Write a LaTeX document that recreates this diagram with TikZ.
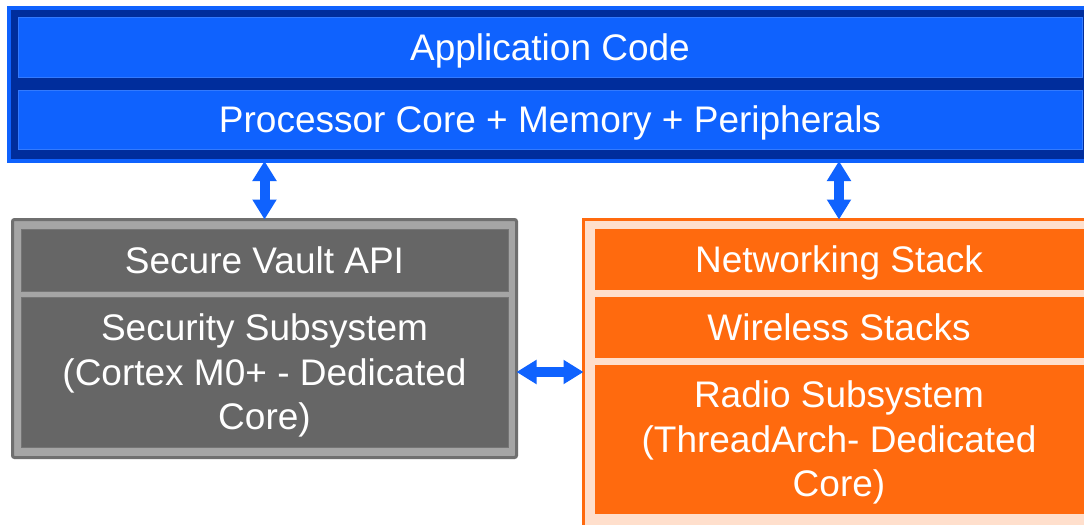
\documentclass[tikz,border=0pt]{standalone}
\usepackage{fontspec}
\setmainfont{Liberation Sans}
\usetikzlibrary{fit,arrows.meta}
\definecolor{ibmblue}{HTML}{0F62FE}
\definecolor{navy}{HTML}{002D9C}
\definecolor{gdark}{HTML}{666666}
\definecolor{glight}{HTML}{A5A5A5}
\definecolor{gedge}{HTML}{6F6F6F}
\definecolor{orng}{HTML}{FF6A0E}
\definecolor{peach}{HTML}{FFDFCC}
\begin{document}
\begin{tikzpicture}[x=0.5pt,y=-0.5pt,
  frame/.style={rectangle, inner sep=0pt, outer sep=0pt},
  bluebox/.style={frame, fill=ibmblue, draw=ibmblue!85!white, line width=0.4pt},
  graybox/.style={frame, fill=gdark, draw=gdark!90!white, line width=0.4pt},
  orangebox/.style={frame, fill=orng, draw=orng, line width=0.4pt},
  lbl/.style={text=white, align=center, inner sep=0pt, font=\fontsize{18.5pt}{22.3pt}\selectfont},
  oneline/.style={lbl, text height=13.3pt, text depth=0pt},
  threeline/.style={lbl, yshift=-1.9pt},
  dbl/.style={draw=ibmblue, line width=5pt, {Triangle[width=11.5pt,length=10pt]}-{Triangle[width=11.5pt,length=10pt]}}
]
\useasboundingbox (0,0) rectangle (1084,525);
\clip (0,0) rectangle (1084,525);
\fill[white] (0,0) rectangle (1084,525);

% top blue block
\node[frame, fill=navy, draw=ibmblue, line width=2pt, fit={(9,8) (1100,161)}] (top) {};
\node[bluebox, fit={(18,17) (1082,77)}] (app) {};
\node[bluebox, fit={(18,90) (1082,149)}] (proc) {};
\node[oneline] (appt) at (app.center) {Application Code};
\node[oneline] (proct) at (proc.center) {Processor Core + Memory + Peripherals};

% gray block
\node[frame, fill=glight, draw=gedge, line width=1.5pt, rounded corners=1pt, fit={(12.5,219.5) (516.5,457.5)}] (gray) {};
\node[graybox, fit={(21,229) (508,291)}] (vault) {};
\node[graybox, fit={(21,297) (508,447)}] (sec) {};
\node[oneline] (vaultt) at (vault.center) {Secure Vault API};
\node[threeline] (sect) at (sec.center) {Security Subsystem\\(Cortex M0+ - Dedicated\\Core)};

% orange block
\node[frame, fill=peach, draw=orng, line width=1.5pt, fit={(583.5,219.5) (1100,545)}] (orange) {};
\node[orangebox, fit={(595,229) (1083,289)}] (net) {};
\node[orangebox, fit={(595,297) (1083,357)}] (wl) {};
\node[orangebox, fit={(595,365) (1083,513)}] (radio) {};
\node[oneline] (nett) at (net.center) {Networking Stack};
\node[oneline] (wlt) at (wl.center) {Wireless Stacks};
\node[threeline] (radiot) at (radio.center) {Radio Subsystem\\(ThreadArch- Dedicated\\Core)};

% connectors
\draw[dbl] (gray.north) -- (gray.north |- top.south);
\draw[dbl] (net |- orange.north) -- (net |- top.south);
\draw[dbl] (gray.east |- sec) -- (orange.west |- sec);
\end{tikzpicture}
\end{document}
